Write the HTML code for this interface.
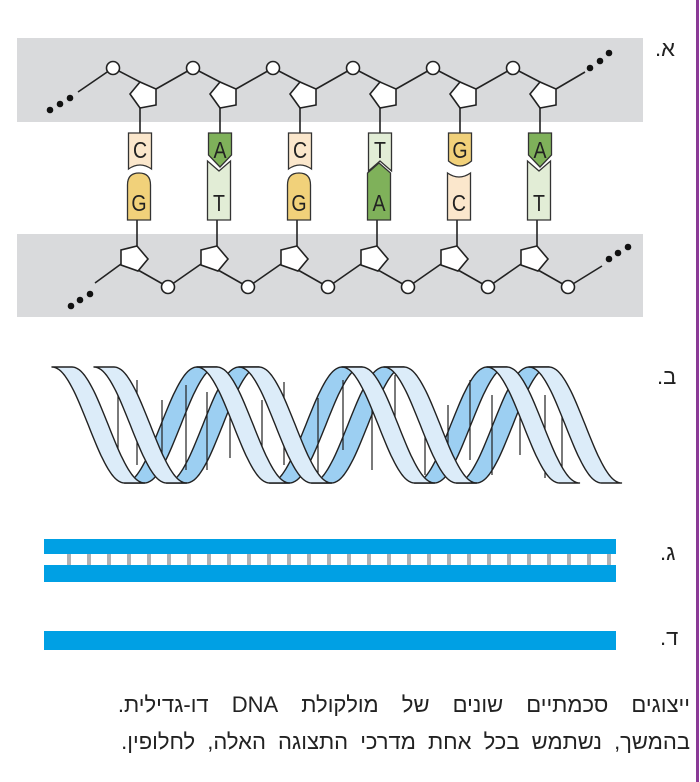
<!DOCTYPE html>
<html><head><meta charset="utf-8">
<style>
html,body{margin:0;padding:0;background:#fff;}
body{width:700px;height:782px;position:relative;overflow:hidden;font-family:"Liberation Sans","Noto Sans CJK SC",sans-serif;}
.lbl{position:absolute;font-size:22px;color:#222;direction:rtl;}
.cap{position:absolute;right:10px;font-size:22px;color:#222;direction:rtl;white-space:nowrap;}
</style></head><body>
<div style="position:absolute;left:696px;top:0;width:3px;height:782px;background:#8a3a96"></div>
<svg id="s" width="700" height="782" style="position:absolute;left:0;top:0">
<rect x="17" y="38" width="626" height="84" fill="#d9dadc"/>
<rect x="17" y="234" width="626" height="83" fill="#d9dadc"/>
<g id="a" stroke="#222" stroke-width="1.6" fill="none"></g>
<g id="helix"></g>
<g id="bars"></g>
</svg>
<div class="lbl" style="left:655px;top:36px">א.</div>
<div class="lbl" style="left:657px;top:364px">ב.</div>
<div class="lbl" style="left:660px;top:540px">ג.</div>
<div class="lbl" style="left:660px;top:625px">ד.</div>
<div class="cap" style="top:692px;word-spacing:17px">ייצוגים סכמתיים שונים של מולקולת DNA דו-גדילית.</div>
<div class="cap" style="top:729px;word-spacing:6px">בהמשך, נשתמש בכל אחת מדרכי התצוגה האלה, לחלופין.</div>
<script>
var NS="http://www.w3.org/2000/svg";
function el(p,t,a){var e=document.createElementNS(NS,t);for(var k in a)e.setAttribute(k,a[k]);p.appendChild(e);return e;}
var s=document.getElementById('s');var a=document.getElementById('a');
var cols=[140,220,300,380,460,540];
var pairs=[['C','G'],['A','T'],['C','G'],['T','A'],['G','C'],['A','T']];
var colr={C:'#fbe7cc',G:'#f1d17a',A:'#7fb15a',T:'#e2edd6'};
function pent(pts){return pts.map(p=>p.join(',')).join(' ');}
// top strand
el(a,'line',{x1:78,y1:92,x2:113,y2:68});
cols.forEach(function(x,i){
 el(a,'line',{x1:x-27,y1:68,x2:x,y2:82});
 el(a,'line',{x1:x+16,y1:89,x2:(i<5?cols[i+1]-27:585),y2:(i<5?68:72)});
 el(a,'line',{x1:x,y1:108,x2:x,y2:133});
});
cols.forEach(function(x){
 el(a,'polygon',{points:pent([[x,82],[x+16,89],[x+16,105],[x,108],[x-10,94]]),fill:'#fff'});
 el(a,'circle',{cx:x-27,cy:68,r:6.5,fill:'#fff'});
});
[[50,110],[60,104],[70,98],[590,68],[600,61],[609,53]].forEach(p=>el(s,'circle',{cx:p[0],cy:p[1],r:3.3,fill:'#111'}));
// bottom strand
var bc=cols.map(x=>x-3);
el(a,'line',{x1:95,y1:283,x2:bc[0]-16,y2:264});
bc.forEach(function(x,i){
 el(a,'line',{x1:x,y1:220,x2:x,y2:246});
 el(a,'line',{x1:x+1,y1:270,x2:x+31,y2:287});
 if(i<5)el(a,'line',{x1:x+31,y1:287,x2:bc[i+1]-16,y2:264});
});
el(a,'line',{x1:bc[5]+31,y1:287,x2:602,y2:266});
bc.forEach(function(x){
 el(a,'polygon',{points:pent([[x,246],[x+11,259],[x+1,271],[x-16,265],[x-16,250]]),fill:'#fff'});
 el(a,'circle',{cx:x+31,cy:287,r:6.5,fill:'#fff'});
});
[[71,306],[80,300],[90,294],[609,259],[618,253],[628,247]].forEach(p=>el(s,'circle',{cx:p[0],cy:p[1],r:3.3,fill:'#111'}));
// bases
function base(x,y1,y2,L,top){
 var l=x-11.5,r=x+11.5,d;
 if(top){
  if(L=='C')d='M'+l+','+y1+'H'+r+'V'+y2+'Q'+x+','+(y2-8)+' '+l+','+y2+'Z';
  else if(L=='G')d='M'+l+','+y1+'H'+r+'V'+(y2-8)+'Q'+x+','+(y2+2)+' '+l+','+(y2-8)+'Z';
  else if(L=='A')d='M'+l+','+y1+'H'+r+'V'+(y2-12)+'L'+x+','+y2+'L'+l+','+(y2-12)+'Z';
  else d='M'+l+','+y1+'H'+r+'V'+(y2)+'L'+x+','+(y2-10)+'L'+l+','+y2+'Z';
 }else{
  if(L=='G')d='M'+l+','+y2+'H'+r+'V'+(y1+12)+'Q'+r+','+y1+' '+x+','+y1+'Q'+l+','+y1+' '+l+','+(y1+12)+'Z';
  else if(L=='C')d='M'+l+','+y2+'H'+r+'V'+(y1)+'Q'+x+','+(y1+8)+' '+l+','+y1+'Z';
  else if(L=='T')d='M'+l+','+y2+'H'+r+'V'+(y1)+'L'+x+','+(y1+10)+'L'+l+','+y1+'Z';
  else d='M'+l+','+y2+'H'+r+'V'+(y1+10)+'L'+x+','+y1+'L'+l+','+(y1+10)+'Z';
 }
 el(s,'path',{d:d,fill:colr[L],stroke:'#333','stroke-width':1.3});
 var t=el(s,'text',{x:x,y:top?y1+25:y2-9,'text-anchor':'middle','font-size':23,'font-family':'Liberation Sans',fill:'#222',transform:'translate('+x+',0) scale(0.85,1) translate('+(-x)+',0)'});t.textContent=L;
}
pairs.forEach(function(p,i){
 var x=cols[i];
 base(x,133,p[0]=='A'?167:(p[0]=='T'?171:169),p[0],true);
 base(x-1,p[1]=='T'?161:(p[1]=='A'?163:173),220,p[1],false);
});
// helix
var h=document.getElementById('helix');
var P=145,A=58,C=425,W=20;
function seg(x0,th0,th1,fill){
 var L=[],R=[];
 for(var i=0;i<=40;i++){var th=th0+(th1-th0)*i/40;var x=x0+P*th/(2*Math.PI);var y=C-A*Math.cos(th);L.push([x,y]);R.push([x+W,y]);}
 var pts=L.concat(R.reverse());
 el(h,'polygon',{points:pts.map(p=>p[0].toFixed(1)+','+p[1].toFixed(1)).join(' '),fill:fill,stroke:'#222','stroke-width':1.4,'stroke-linejoin':'round'});
}
var starts=[52,94];
starts.forEach(function(x0){for(var k=0;k<4;k++){var b=Math.PI*(2*k+1);if(x0+P*(b+Math.PI)/(2*Math.PI)<600)seg(x0,b,b+Math.PI,'#9ccff2');}});
[[118,395,470],[137,380,465],[162,400,480],[186,385,470],[207,392,470],[230,378,458],[262,400,480],[284,382,465],[318,398,478],[343,380,450],[372,390,470],[395,375,440],[425,390,475],[448,405,470],[470,380,460],[492,395,475],[520,378,455],[545,395,478],[562,400,480]].forEach(r=>el(h,'line',{x1:r[0],y1:r[1],x2:r[0],y2:r[2],stroke:'#222','stroke-width':1.2}));
starts.forEach(function(x0){for(var k=0;k<4;k++){var b=Math.PI*2*k;if(x0+P*b/(2*Math.PI)<540)seg(x0,b,b+Math.PI,'#dcecf9');}});
// bars
var g=document.getElementById('bars');
el(g,'rect',{x:44,y:539,width:572,height:15,fill:'#00a0e4'});
el(g,'rect',{x:44,y:565,width:572,height:17,fill:'#00a0e4'});
for(var x=67;x<610;x+=20)el(g,'rect',{x:x,y:554,width:4,height:11,fill:'#b1b1b4'});
el(g,'rect',{x:44,y:631,width:572,height:19,fill:'#00a0e4'});
</script>
</body></html>
